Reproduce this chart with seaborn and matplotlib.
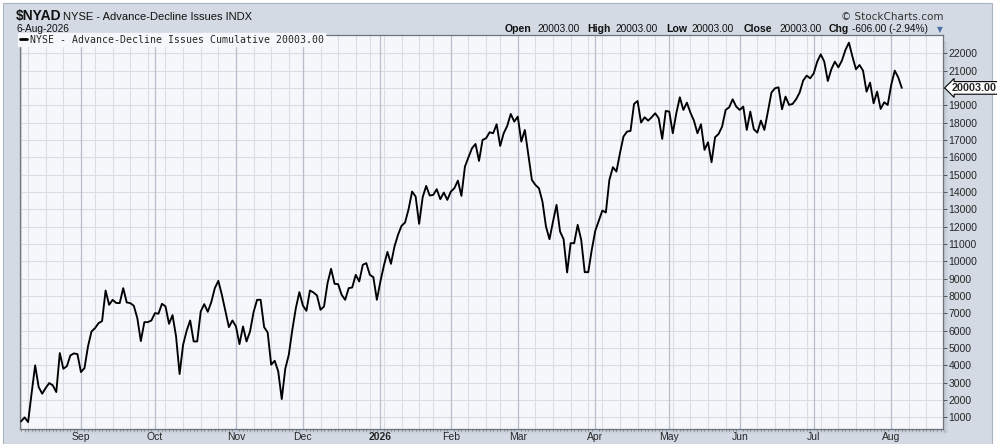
import pandas as pd
import numpy as np
import matplotlib
matplotlib.use('Agg')
import matplotlib.pyplot as plt
import seaborn as sns
from matplotlib.lines import Line2D
from matplotlib.patches import Rectangle

# trading calendar
start_date = '2025-08-07'
grid_end_date = '2026-08-25'
nyse_holidays = ['2025-09-01', '2025-11-27', '2025-12-25', '2026-01-01',
                 '2026-01-19', '2026-02-16', '2026-04-03', '2026-05-25',
                 '2026-06-19', '2026-07-03']

# cumulative advance-decline line, one value per trading day
ad_line = [
    770, 1000, 730, 2400, 4000, 2750, 2365, 2700, 2980, 2850,
    2460, 4710, 3805, 3950, 4573, 4690, 4650, 3613, 3840, 5092,
    5957, 6150, 6437, 6552, 8319, 7493, 7781, 7600, 7590, 8454,
    7628, 7590, 7440, 6725, 5400, 6494, 6494, 6590, 7013, 6980,
    7551, 7400, 6398, 6898, 5668, 3498, 5188, 5995, 6590, 5380,
    5380, 7109, 7532, 7090, 7647, 8454, 8876, 8070, 7148, 6206,
    6590, 6245, 5227, 6245, 5380, 5957, 7071, 7781, 7781, 6206,
    5899, 4035, 4266, 3651, 2057, 3805, 4612, 6053, 7301, 8223,
    7450, 7148, 8320, 8205, 8032, 7206, 7398, 8743, 9568, 8704,
    8685, 8070, 7782, 8454, 8493, 9223, 8839, 9799, 9895, 9223,
    9088, 7782, 8839, 9760, 10548, 9857, 10856, 11528, 12047, 12239,
    13007, 14025, 13737, 12162, 13699, 14352, 13795, 13833, 14160, 13583,
    13968, 13545, 14025, 14218, 14659, 13776, 15466, 16004, 16523, 16772,
    15793, 17003, 17099, 17445, 17387, 17906, 16657, 17387, 17810, 18501,
    18059, 18347, 16907, 17579, 16138, 14698, 14409, 14218, 13449, 12008,
    11278, 12296, 13257, 11720, 11278, 9357, 11048, 11048, 12104, 11240,
    9376, 9376, 10663, 11770, 12340, 12931, 12816, 14699, 15428, 15179,
    16235, 17196, 17484, 17522, 19079, 19251, 18003, 18310, 18118, 18310,
    18541, 18252, 17061, 18675, 18637, 17388, 18541, 19463, 18733, 19155,
    18579, 18118, 17388, 17907, 16428, 16869, 15717, 17157, 17349, 17772,
    18733, 18886, 19347, 18925, 18733, 18925, 17580, 18637, 17618, 17426,
    18118, 17580, 18637, 19732, 19981, 20039, 18771, 19501, 19021, 19079,
    19347, 19732, 20423, 20711, 20558, 20846, 21518, 21941, 21518, 20404,
    21076, 21518, 21191, 21576, 22190, 22613, 21806, 21076, 21326, 21000,
    19789, 20308, 19117, 19789, 18790, 19175, 19021, 20173, 21000, 20609,
    20003,
]

y_ticks = list(range(1000, 23000, 1000))
quote_open = 20003.00
quote_high = 20003.00
quote_low = 20003.00
quote_close = 20003.00
quote_chg = -606.00
quote_chg_pct = -2.94

W, H = 997, 444
PANEL = '#D3DAE4'
FACE = '#F5F7FB'

all_days = pd.bdate_range(start_date, grid_end_date, freq='C', holidays=nyse_holidays)
df = pd.DataFrame({'date': all_days[:len(ad_line)], 'value': ad_line})
df['idx'] = np.arange(len(df))

cal = pd.DataFrame({'date': all_days})
cal['idx'] = np.arange(len(cal))
month_key = cal['date'].dt.to_period('M')
month_starts = cal.groupby(month_key)['idx'].min().iloc[1:]
week_key = cal['date'].dt.to_period('W')
week_starts = cal.groupby(week_key)['idx'].min()

sns.set_theme(style='white')
plt.rcParams['font.family'] = ['Liberation Sans', 'DejaVu Sans']

fig = plt.figure(figsize=(W / 100, H / 100), dpi=100, facecolor='white')
fig.patches.append(Rectangle((3 / W, 0), 989 / W, 1 - 3 / H, transform=fig.transFigure,
                             facecolor=PANEL, edgecolor='#A9B4C2', lw=0.8, zorder=-10))

x0, x1, y0, y1 = 20, 943, 35, 429
ax = fig.add_axes([x0 / W, 1 - y1 / H, (x1 - x0) / W, (y1 - y0) / H])
ax.set_facecolor(FACE)

# soft shadow right and below the plot area
for k, a in enumerate([0.22, 0.15, 0.09, 0.05]):
    fig.patches.append(Rectangle(((x1 + 1 + k) / W, 1 - (y1 + 4) / H), 1 / W, (y1 - y0 - 2) / H,
                                 transform=fig.transFigure, facecolor='#7A8494', alpha=a,
                                 edgecolor='none', zorder=-5))
    fig.patches.append(Rectangle(((x0 + 4) / W, 1 - (y1 + 2 + k) / H), (x1 - x0) / W, 1 / H,
                                 transform=fig.transFigure, facecolor='#7A8494', alpha=a,
                                 edgecolor='none', zorder=-5))

# grid
for yv in y_ticks:
    ax.axhline(yv, color='#D9DDE5', lw=0.8, zorder=0)
for wi in week_starts:
    ax.axvline(wi, color='#D9DDE5', lw=0.8, zorder=0)
for mi in month_starts:
    ax.axvline(mi, color='#B9BFCA', lw=0.9, zorder=0)

sns.lineplot(data=df, x='idx', y='value', ax=ax, color='black', linewidth=1.35,
             legend=False, zorder=3)

ax.set_xlim(-0.3, 261.7)
ax.set_ylim(330, 23055)

for s in ax.spines.values():
    s.set_color('#6E737C')
    s.set_linewidth(0.9)

# x axis: month labels under month lines, daily minor ticks
ax.set_xticks(month_starts.values)
labels = []
for mi in month_starts.values:
    d = cal['date'].iloc[mi]
    labels.append(str(d.year) if d.month == 1 else d.strftime('%b'))
ax.set_xticklabels(labels)
for t in ax.get_xticklabels():
    if t.get_text().isdigit():
        t.set_fontweight('bold')
ax.set_xticks(np.arange(0, 262), minor=True)
ax.tick_params(axis='x', which='major', length=0, pad=2.5, labelsize=7.5)
ax.tick_params(axis='x', which='minor', bottom=True, length=1.5, width=0.6, color='#777777')

# y axis on the right
ax.yaxis.tick_right()
ax.set_yticks(y_ticks)
ax.set_yticklabels(['' if v == 20000 else str(v) for v in y_ticks])
ax.tick_params(axis='y', which='major', right=True, left=False, length=3, width=0.7,
               color='#555555', pad=1, labelsize=7.5)
ax.set_xlabel('')
ax.set_ylabel('')

# last value marker
ax.annotate(f'{quote_close:.2f}', xy=(1.0, quote_close), xycoords=('axes fraction', 'data'),
            xytext=(6, 0), textcoords='offset points', ha='left', va='center',
            fontsize=7.8, fontweight='bold', annotation_clip=False, zorder=10,
            bbox=dict(boxstyle='larrow,pad=0.12', fc='white', ec='black', lw=0.8))

# legend line inside the plot
leg = ax.legend(handles=[Line2D([], [], color='black', lw=2)],
                labels=[f'NYSE - Advance-Decline Issues Cumulative {quote_close:.2f}'],
                loc='upper left', bbox_to_anchor=(-0.002, 1.005), handlelength=0.7,
                handletextpad=0.35, borderpad=0.15, borderaxespad=0, frameon=True,
                facecolor=FACE, edgecolor=FACE, framealpha=1, fancybox=False,
                prop={'family': 'DejaVu Sans Mono', 'size': 7.1})
leg.set_zorder(5)


def ftext(x, y, s, **kw):
    return fig.text(x / W, 1 - y / H, s, va='baseline', **kw)


# header, left
ftext(16, 20, '$NYAD', fontsize=10, fontweight='bold', color='#111111')
ftext(63, 20, 'NYSE - Advance-Decline Issues INDX', fontsize=8, color='#111111')
ftext(16, 31.5, '6-Aug-2026', fontsize=7.3, color='#111111')

# header, right
ftext(943, 19.5, '\u00a9 StockCharts.com', fontsize=7.5, ha='right', color='#333333',
      family='DejaVu Sans')
pieces = [
    (505, 'Open', True), (537, f'{quote_open:.2f}', False),
    (587, 'High', True), (615, f'{quote_high:.2f}', False),
    (666, 'Low', True), (691, f'{quote_low:.2f}', False),
    (744, 'Close', True), (779, f'{quote_close:.2f}', False),
    (829, 'Chg', True), (852, f'{quote_chg:.2f} ({quote_chg_pct:.2f}%)', False),
]
for px, s, bold in pieces:
    ftext(px, 32, s, fontsize=7.6 if bold else 7.3, fontweight='bold' if bold else 'normal',
          color='#111111')
ftext(937, 32, '\u25bc', fontsize=5.5, color='#4A6FA5', family='DejaVu Sans')

fig.savefig('out.png', dpi=100, facecolor=fig.get_facecolor())
